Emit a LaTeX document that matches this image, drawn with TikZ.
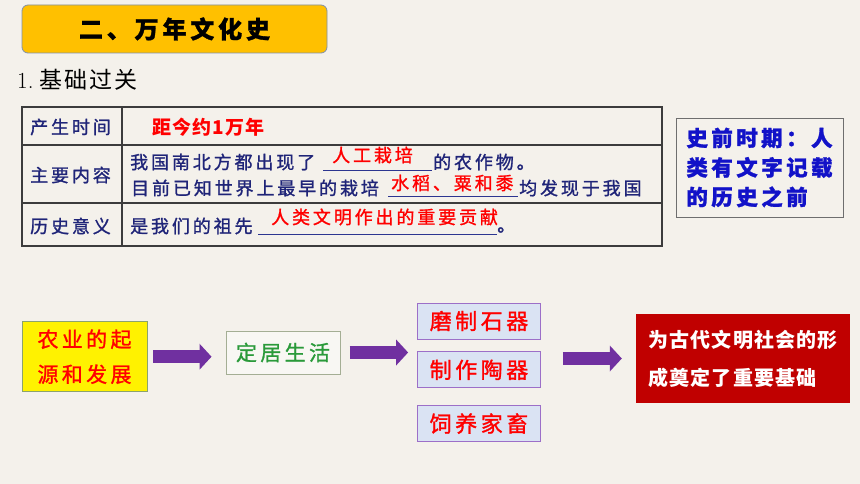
\documentclass[tikz,border=0pt]{standalone}
\usepackage{fontspec}
\usepackage{tikz}
\usetikzlibrary{positioning,arrows.meta}
\newfontfamily\cjk{Noto Sans CJK SC}[LetterSpace=8]
\newfontfamily\cjkspaced{Noto Sans CJK SC}[LetterSpace=16, FakeBold=1.2]
\newfontfamily\cjktight{Noto Sans CJK SC}[LetterSpace=6]
\definecolor{paper}{HTML}{F4F1EB}
\definecolor{titlegold}{HTML}{FFC000}
\definecolor{titleedge}{HTML}{8090A8}
\definecolor{navytext}{HTML}{1F2478}
\definecolor{tableline}{HTML}{3C3C3C}
\definecolor{inkline}{HTML}{2C3590}
\definecolor{notetext}{HTML}{1212C8}
\definecolor{notegray}{HTML}{6E6E6E}
\definecolor{agriedge}{HTML}{8CA36C}
\definecolor{settleedge}{HTML}{A4AE94}
\definecolor{settlegreen}{HTML}{2A9A3A}
\definecolor{toolfill}{HTML}{DAE3F3}
\definecolor{tooledge}{HTML}{9C6FC8}
\definecolor{basered}{HTML}{C00000}
\definecolor{arrowpurple}{HTML}{7030A0}

\begin{document}
\begin{tikzpicture}[x=1pt, y=-1pt,
titlebox/.style = {draw=titleedge, fill=titlegold, line width=0.8pt, rounded corners=6pt,
  minimum width=305pt, minimum height=48pt, font=\cjkspaced\bfseries\fontsize{24}{24}\selectfont},
rowlabel/.style = {inner sep=0pt, anchor=west, text=navytext, font=\cjkspaced\fontsize{18}{18}\selectfont},
bodytext/.style = {inner sep=0pt, anchor=west, text=navytext, font=\cjkspaced\fontsize{18}{18}\selectfont},
answer/.style = {inner sep=0pt, anchor=west, text=red, font=\cjkspaced\fontsize{18}{18}\selectfont},
underline/.style = {draw=inkline, line width=1pt},
notebox/.style = {draw=notegray, line width=0.8pt, minimum width=167pt, minimum height=99pt, align=left,
  text=notetext, font=\cjkspaced\bfseries\fontsize{21.5}{29.5}\selectfont},
agribox/.style = {draw=agriedge, fill=yellow, line width=0.8pt, minimum width=125pt, minimum height=70pt,
  align=center, text=red, font=\cjkspaced\fontsize{21}{35}\selectfont},
settlebox/.style = {draw=settleedge, fill=paper!60!white, line width=1pt, minimum width=114pt, minimum height=43pt,
  text=settlegreen, font=\cjkspaced\fontsize{21}{21}\selectfont},
toolbox/.style = {draw=tooledge, fill=toolfill, line width=0.8pt, minimum width=123pt, minimum height=36pt,
  text=red, font=\cjkspaced\fontsize{22}{22}\selectfont},
basebox/.style = {fill=basered, minimum width=214pt, minimum height=89pt, align=left,
  text=white, font=\cjktight\bfseries\fontsize{20}{38}\selectfont},
fatarrow/.style = {draw=arrowpurple, line width=13pt, -{Triangle[length=12pt, width=26pt, line width=0pt]}}]
\fill[paper] (0,0) rectangle (860,484);
\useasboundingbox (0,0) rectangle (860,484);

% heading
\node[titlebox] (title) at (174.5,29) {二、万年文化史};
\node[inner sep=0pt, anchor=west, font=\fontsize{23}{23}\selectfont] (basics) at (17,80) {1.\hspace{6pt}{\cjk 基础过关}};

% table
\draw[tableline, line width=1.3pt] (22,107) rectangle (662,246);
\draw[tableline, line width=1.3pt] (22,145) -- (662,145);
\draw[tableline, line width=1.3pt] (22,203) -- (662,203);
\draw[tableline, line width=1.3pt] (122,107) -- (122,246);
\node[rowlabel] (timelbl) at (30,127) {产生时间};
\node[rowlabel] (contentlbl) at (30,175) {主要内容};
\node[rowlabel] (meaninglbl) at (30,226) {历史意义};
\node[inner sep=0pt, anchor=west, text=red, font=\cjktight\bfseries\fontsize{19}{19}\selectfont] (age) at (152,127) {距今约1万年};
\node[bodytext] (line1a) at (130,162) {我国南北方都出现了};
\node[answer] (ans1) at (332,155) {人工栽培};
\node[bodytext] (line1b) at (433,162) {的农作物。};
\node[bodytext] (line2a) at (131,188) {目前已知世界上最早的栽培};
\node[answer] (ans2) at (391,183) {水稻、粟和黍};
\node[bodytext] (line2b) at (519,188) {均发现于我国};
\node[bodytext] (line3a) at (130,226) {是我们的祖先};
\node[answer] (ans3) at (271,217) {人类文明作出的重要贡献};
\node[bodytext] (line3b) at (497,230) {。};
\draw[underline] (323,171) -- (432,171);
\draw[underline] (388,197) -- (518,197);
\draw[underline] (258,234) -- (497,234);

% side note
\node[notebox] (prehist) at (759.5,167.5) {史前时期：人\\类有文字记载\\的历史之前};

% flow
\node[agribox] (agri) at (84.5,356.7) {农业的起\\源和发展};
\node[settlebox] (settle) at (283,352.5) {定居生活};
\node[toolbox] (stone) at (479,321) {磨制石器};
\node[toolbox] (pottery) [below=12pt of stone] {制作陶器};
\node[toolbox] (livestock) [below=17pt of pottery] {饲养家畜};
\node[basebox] (base) at (743,358.5) {为古代文明社会的形\\成奠定了重要基础};
\draw[fatarrow] ([xshift=6pt]agri.east) -- ([xshift=-14pt]agri.east -| settle.west);
\draw[fatarrow] ([xshift=9pt]settle.east) -- ([xshift=-9pt]settle.east -| pottery.west);
\draw[fatarrow] ([xshift=22pt]pottery.east |- base.west) -- ([xshift=-14pt]base.west);
\end{tikzpicture}
\end{document}
